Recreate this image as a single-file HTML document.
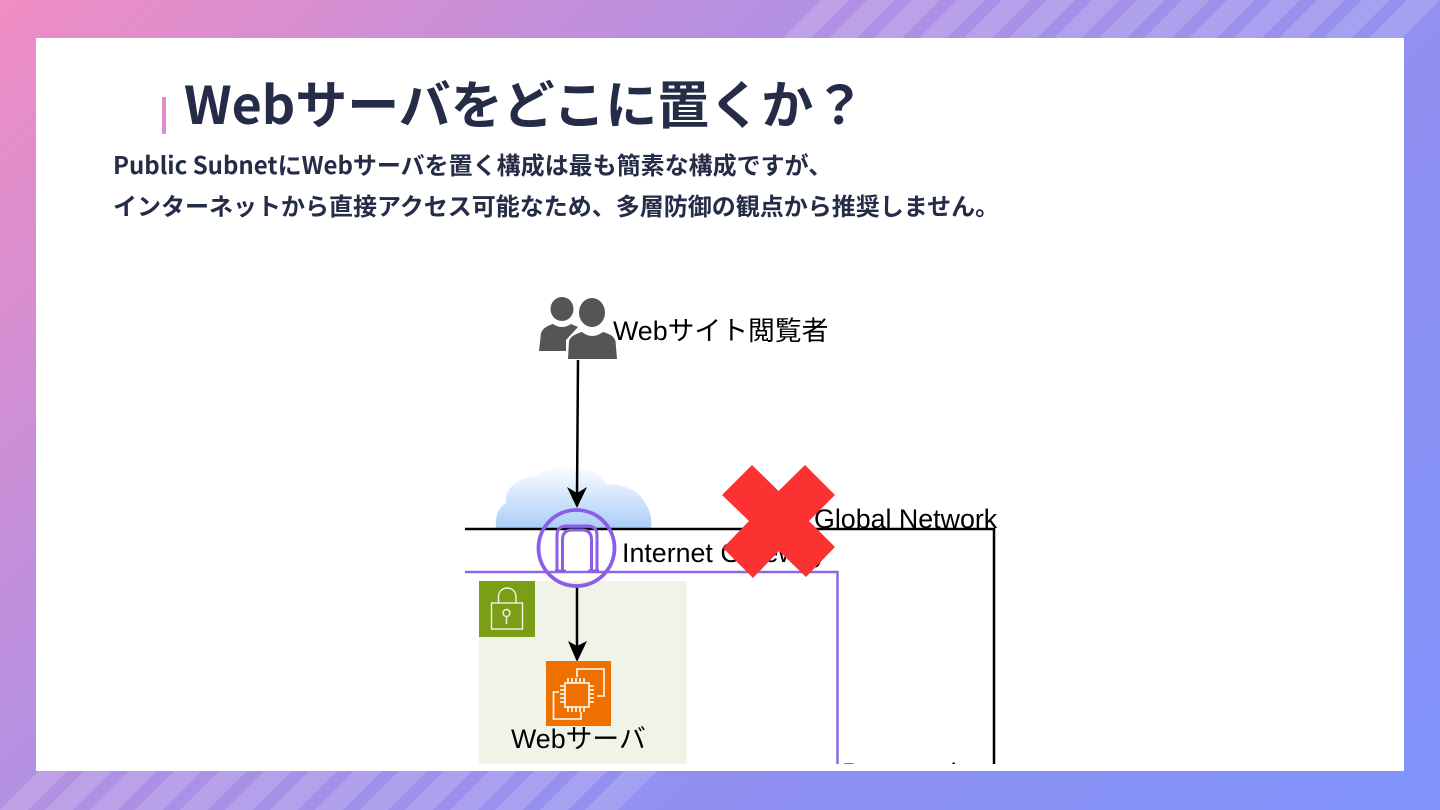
<!DOCTYPE html>
<html lang="ja"><head><meta charset="utf-8"><title>Webサーバをどこに置くか？</title>
<style>
html,body{margin:0;padding:0;width:1440px;height:810px;overflow:hidden}
body{position:relative;background:linear-gradient(135deg,#f08dc3 0%,#b890e0 32%,#9290f0 64%,#7f93fa 100%)}
#panel{position:absolute;left:36px;top:38px;width:1368px;height:733px;background:#fff}
.t{position:absolute;color:#252c47;font-family:"Noto Sans CJK JP","Liberation Sans",sans-serif;font-weight:700;white-space:nowrap;margin:0}
#bar{position:absolute;left:162px;top:97px;width:4px;height:37px;background:#e08dcb}
svg{position:absolute;left:0;top:0}
</style></head><body>
<svg width="1440" height="810" viewBox="0 0 1440 810">
<g fill="#fff" fill-opacity=".16">
<path d="M783 38L821 0H849L811 38Z"/><path d="M829 38L867 0H895L857 38Z"/><path d="M874 38L912 0H940L902 38Z"/><path d="M919 38L957 0H985L947 38Z"/><path d="M964 38L1002 0H1030L992 38Z"/><path d="M1009 38L1047 0H1075L1037 38Z"/><path d="M1054 38L1092 0H1120L1082 38Z"/><path d="M1099 38L1137 0H1165L1127 38Z"/><path d="M1144 38L1182 0H1210L1172 38Z"/><path d="M1189 38L1227 0H1255L1217 38Z"/><path d="M1234 38L1272 0H1300L1262 38Z"/><path d="M1279 38L1317 0H1345L1307 38Z"/><path d="M1324 38L1362 0H1390L1352 38Z"/><path d="M1369 38L1407 0H1440L1402 38Z"/>
<path d="M0 810L39 771H67L28 810Z"/><path d="M45 810L84 771H112L73 810Z"/><path d="M90 810L129 771H157L118 810Z"/><path d="M135 810L174 771H202L163 810Z"/><path d="M180 810L219 771H247L208 810Z"/><path d="M225 810L264 771H292L253 810Z"/><path d="M270 810L309 771H337L298 810Z"/><path d="M315 810L354 771H382L343 810Z"/><path d="M360 810L399 771H427L388 810Z"/><path d="M405 810L444 771H472L433 810Z"/><path d="M450 810L489 771H517L478 810Z"/><path d="M495 810L534 771H562L523 810Z"/><path d="M540 810L579 771H607L568 810Z"/><path d="M585 810L624 771H657L618 810Z"/>
</g>
</svg>
<div id="panel"></div>
<div id="bar"></div>
<h1 class="t" style="left:184px;top:64px;font-size:52px;line-height:76px">Webサーバをどこに置くか？</h1>
<p class="t" style="left:113px;top:146px;font-size:24px;line-height:36px">Public SubnetにWebサーバを置く構成は最も簡素な構成ですが、</p>
<p class="t" style="left:113px;top:187px;font-size:24px;line-height:36px">インターネットから直接アクセス可能なため、多層防御の観点から推奨しません。</p>
<svg width="1440" height="810" viewBox="0 0 1440 810">
<defs>
<linearGradient id="c" x1="0" y1="0" x2="0" y2="1"><stop offset="0" stop-color="#fbfdff"/><stop offset="1" stop-color="#a9cdf7"/></linearGradient>
<clipPath id="d"><rect x="465" y="280" width="540" height="484"/></clipPath>
</defs>
<g clip-path="url(#d)">
<path d="M496 529C495 516 498 508 506 503C504 490 516 478 535 476C546 468 560 466 572 467C586 467 600 472 606 484C622 484 640 490 645 503C651 511 652 520 651 529Z" fill="url(#c)"/>
<rect x="479" y="581" width="208" height="183" fill="#f0f3e8"/>
<path d="M465 529H994V764" fill="none" stroke="#000" stroke-width="2.500"/>
<path d="M465 572H837.500V764" fill="none" stroke="#8c68e4" stroke-width="2.500"/>
<rect x="479" y="581" width="56" height="56" fill="#7a9e16"/>
<g fill="none" stroke="#f3f5e4" stroke-width="1.400"><rect x="491.500" y="603" width="31" height="26"/><path d="M498.500 603V597C498.500 585 516 585 516 597V603"/><circle cx="506.500" cy="613" r="3.500"/><path d="M506.500 616.500V624"/></g>
<path d="M578 360L577 495" stroke="#000" stroke-width="2.500" fill="none"/>
<path d="M577 508L567 487L577 493L587 487Z" fill="#000"/>
<path d="M577 586V650" stroke="#000" stroke-width="2.500" fill="none"/>
<path d="M577 662L568 641L577 646L587 641Z" fill="#000"/>
<circle cx="576.500" cy="548" r="38" fill="none" stroke="#8c5ee8" stroke-width="3.800"/>
<path d="M557 570V535Q557 526 567 526H587Q597 526 597 535V570M562.500 570V540Q562.500 530 572 530H582Q591.500 530 591.500 540V570M555 571H566M588 571H599" fill="none" stroke="#8c5ee8" stroke-width="3"/>
<rect x="546" y="661" width="65" height="65" fill="#ee7100"/>
<g fill="none" stroke="#fdeedd" stroke-width="1.800"><path d="M577 677V669H604V696H597M559 692H553.500V719H581V712"/><rect x="565" y="683" width="24" height="24"/><path d="M568 678V683M572 678V683M576 678V683M580 678V683M584 678V683M568 707V712M572 707V712M576 707V712M580 707V712M584 707V712M560 686H565M560 690H565M560 694H565M560 698H565M560 702H565M589 686H594M589 690H594M589 694H594M589 698H594M589 702H594"/></g>
<g fill="#555"><ellipse cx="562" cy="309" rx="11.500" ry="12"/><path d="M539 351L541 333Q543 327 553 324Q562 330 571 324L578 327L566 340V351Z"/><ellipse cx="592" cy="312.500" rx="13" ry="14.500"/><path d="M568 359L569 341Q571 335 582 332Q592 340 603 332Q614 335 615.500 341L617 359Z"/></g>
<g font-family="'Liberation Sans','Noto Sans CJK JP',sans-serif" fill="#000">
<text x="613" y="340" font-size="26.800">Webサイト閲覧者</text>
<text x="622" y="562" font-size="26.800">Internet Gateway</text>
<text x="814" y="528" font-size="26.800">Global Network</text>
<text x="511" y="748" font-size="26.800">Webサーバ</text>
<text x="842" y="782" font-size="26.800">Protected</text>
</g>
</g>
<path d="M752 465L778.500 491L805 465L835 495L809 521L835 547L806 577L779 551L753 578L723 548L749 521L722 495Z" fill="#fc3232"/>
</svg>
</body></html>
